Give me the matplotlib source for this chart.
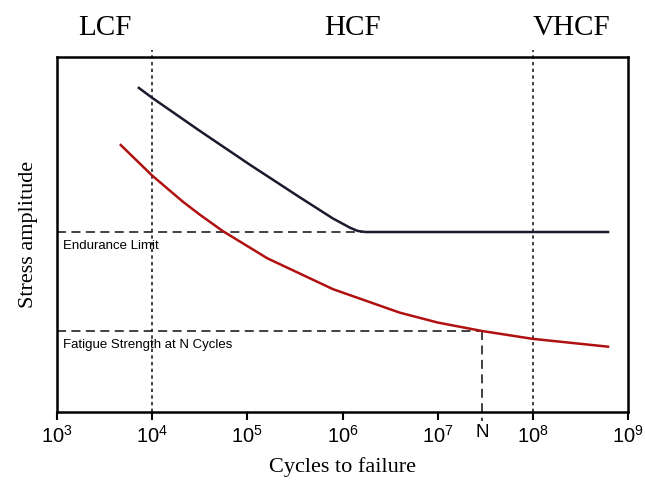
import matplotlib
matplotlib.use("Agg")
import matplotlib.pyplot as plt
import numpy as np

# Data (log10 cycles, relative stress amplitude)
black_logN = [3.86, 4.00, 4.50, 5.03, 5.55, 5.90, 6.08, 6.16, 6.24, 8.79]
black_S = [91.3, 88.5, 79.2, 69.6, 60.5, 54.5, 51.9, 51.0, 50.7, 50.7]
red_logN = [3.67, 4.00, 4.32, 4.50, 4.74, 5.21, 5.90, 6.60, 7.00, 7.47, 8.00, 8.79]
red_S = [75.2, 66.6, 59.3, 55.6, 51.0, 43.3, 34.6, 28.0, 25.2, 22.8, 20.6, 18.4]
endurance_limit = 50.7
endurance_end_log = 6.20
N_log = 7.47
fatigue_strength_N = 22.8
region_bounds_log = [4, 8]
region_labels = ["LCF", "HCF", "VHCF"]
region_label_log = [3.50, 6.10, 8.41]
tick_exps = [3, 4, 5, 6, 7, 8, 9]

sans = ['Liberation Sans Narrow', 'Liberation Sans', 'DejaVu Sans']

fig = plt.figure(figsize=(6.45, 4.8), dpi=100)
ax = fig.add_axes([57/645, 68/480, 571/645, 355/480])
ax.set_xscale('log')
ax.set_xlim(1e3, 1e9)
ax.set_ylim(0, 100)

ax.plot(10**np.array(black_logN), black_S, color='#1a1a2e', lw=1.8, zorder=3,
        solid_joinstyle='round')
ax.plot(10**np.array(red_logN), red_S, color='#b01010', lw=1.8, zorder=3,
        solid_joinstyle='round')

# reference lines
ax.plot([1e3, 10**endurance_end_log], [endurance_limit]*2, color='#333333', lw=1.3,
        ls=(0, (5, 3)), zorder=2)
ax.plot([1e3, 10**N_log], [fatigue_strength_N]*2, color='#333333', lw=1.3,
        ls=(0, (5, 3)), zorder=2)
ax.plot([10**N_log, 10**N_log], [fatigue_strength_N, -2.5], color='#333333', lw=1.3,
        ls=(0, (5, 3)), zorder=2, clip_on=False)
for b in region_bounds_log:
    ax.plot([10**b, 10**b], [0, 102], color='#222222', lw=1.2, ls=(0, (2, 2)),
            zorder=2, clip_on=False)

ax.text(1.15e3, endurance_limit - 2.2, "Endurance Limit", fontsize=9.5,
        family='Liberation Sans', va='top', ha='left')
ax.text(1.15e3, fatigue_strength_N - 2.2, "Fatigue Strength at N Cycles", fontsize=9.5,
        family='Liberation Sans', va='top', ha='left')

for lab, lx in zip(region_labels, region_label_log):
    ax.text(10**lx, 106.2, lab, fontsize=21, family='Liberation Serif',
            ha='center', va='baseline')

ticks = [10**e for e in tick_exps]
labels = [r"$\mathdefault{10^{%d}}$" % e for e in tick_exps]
ax.set_xticks(ticks)
ax.set_xticklabels(labels)
ax.xaxis.set_minor_locator(matplotlib.ticker.NullLocator())
for t in ax.get_xticklabels():
    t.set_family(sans)
    t.set_fontsize(14.5)
ax.tick_params(axis='x', direction='out', length=6, width=1.5, pad=3)
ax.set_yticks([])
ax.text(10**N_log, -3.5, "N", fontsize=13.5, family=sans, ha='center', va='top')

for s in ax.spines.values():
    s.set_linewidth(1.8)

ax.set_xlabel("Cycles to failure", fontsize=16, family='Liberation Serif', labelpad=8)
ax.set_ylabel("Stress amplitude", fontsize=16, family='Liberation Serif', labelpad=14)

fig.savefig("out.png", dpi=100)
